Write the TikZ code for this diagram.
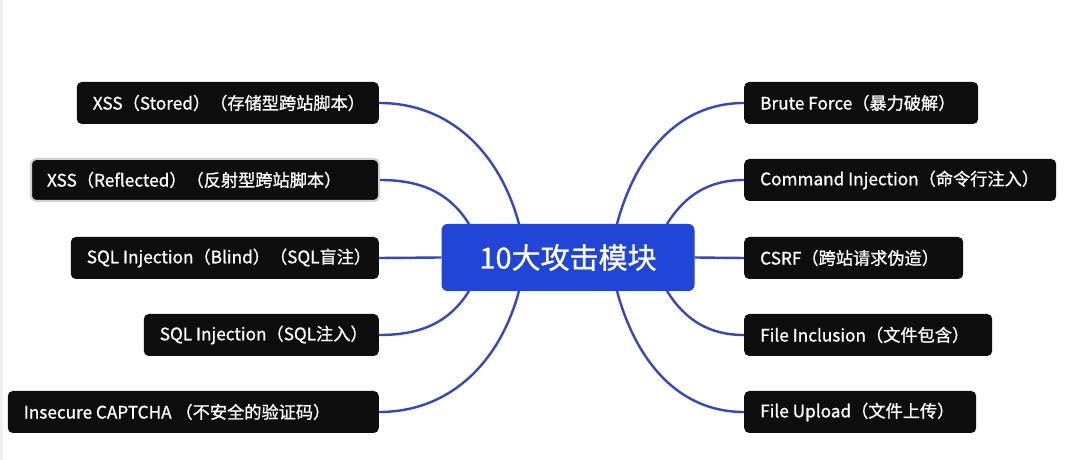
\documentclass[tikz,border=0pt]{standalone}
\usepackage{fontspec}
\setmainfont{Noto Sans CJK SC}[FakeBold=0.9]
\definecolor{boxblack}{HTML}{0E0E0E}
\definecolor{hubblue}{HTML}{2145D6}
\definecolor{linkblue}{HTML}{3446C0}
\newcommand{\leaftext}[2]{\makebox[#1][l]{#2}}
\begin{document}
\begin{tikzpicture}[x=1pt,y=1pt,
  leaf/.style={fill=boxblack,text=white,rounded corners=5pt,minimum height=42pt,inner xsep=16pt,font=\fontsize{17.2}{19}\selectfont},
  hub/.style={fill=hubblue,text=white,rounded corners=6pt,minimum width=253pt,minimum height=67pt,font=\fontsize{29}{32}\selectfont},
  link/.style={draw=linkblue,line width=2.4pt}]
\useasboundingbox (0,0) rectangle (1080,460);
\fill[white] (0,0) rectangle (1080,460);
\fill[black!6] (0,0) rectangle (3,460);
% hub
\node[hub] (c) at (568,202.5) {10大攻击模块};
% left
\node[leaf,anchor=east] (l1) at (379,357) {\leaftext{270pt}{XSS（Stored）（存储型跨站脚本）}};
\node[leaf,anchor=east,draw=black!18,line width=2pt] (l2) at (380,280) {\leaftext{316pt}{XSS（Reflected）（反射型跨站脚本）}};
\node[leaf,anchor=east] (l3) at (379,202) {\leaftext{276pt}{SQL Injection（Blind）（SQL盲注）}};
\node[leaf,anchor=east] (l4) at (379,125) {\leaftext{203pt}{SQL Injection（SQL注入）}};
\node[leaf,anchor=east] (l5) at (379,48) {\leaftext{339pt}{Insecure CAPTCHA （不安全的验证码）}};
% right
\node[leaf,anchor=west] (r1) at (744,357) {\leaftext{202pt}{Brute Force（暴力破解）}};
\node[leaf,anchor=west] (r2) at (744,280) {\leaftext{280pt}{Command Injection（命令行注入）}};
\node[leaf,anchor=west] (r3) at (744,202) {\leaftext{187pt}{CSRF（跨站请求伪造）}};
\node[leaf,anchor=west] (r4) at (744,125) {\leaftext{216pt}{File Inclusion（文件包含）}};
\node[leaf,anchor=west] (r5) at (744,48) {\leaftext{200pt}{File Upload（文件上传）}};
% attach points
\coordinate (tl1) at (519,236);
\coordinate (tl2) at (469,236);
\coordinate (bl4) at (469,169);
\coordinate (bl5) at (519,169);
\coordinate (tr1) at (617,236);
\coordinate (tr2) at (667,236);
\coordinate (br4) at (667,169);
\coordinate (br5) at (617,169);
\draw[link] (tl1) to[out=105,in=0] (l1.east);
\draw[link] (tl2) to[out=122,in=0] (l2.east);
\draw[link] (c.west) -- (l3.east);
\draw[link] (bl4) to[out=238,in=0] (l4.east);
\draw[link] (bl5) to[out=255,in=0] (l5.east);
\draw[link] (tr1) to[out=75,in=180] (r1.west);
\draw[link] (tr2) to[out=58,in=180] (r2.west);
\draw[link] (c.east) -- (r3.west);
\draw[link] (br4) to[out=302,in=180] (r4.west);
\draw[link] (br5) to[out=285,in=180] (r5.west);
\end{tikzpicture}
\end{document}
